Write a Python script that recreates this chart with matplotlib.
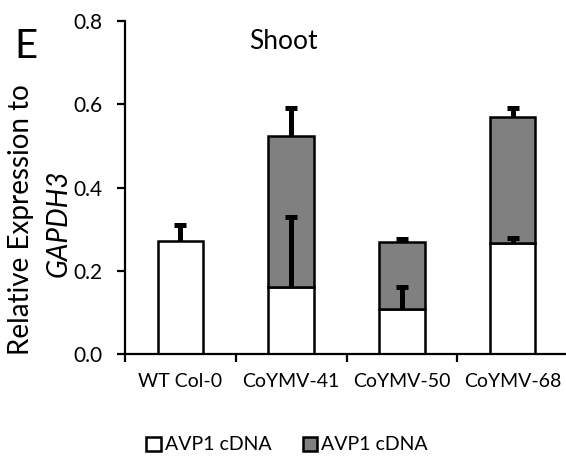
import numpy as np
import matplotlib
matplotlib.use('Agg')
import matplotlib.pyplot as plt
from matplotlib.patches import Patch

plt.rcParams['font.family'] = ['Lato', 'DejaVu Sans']

# relative expression (shoot), white = lower segment, gray = stacked segment total
lines = ['WT Col-0', 'CoYMV-41', 'CoYMV-50', 'CoYMV-68']
lower = [0.271, 0.162, 0.108, 0.266]
lower_err = [0.040, 0.168, 0.054, 0.012]
total = [None, 0.524, 0.268, 0.569]
total_err = [None, 0.067, 0.008, 0.021]
legend_labels = ['AVP1 cDNA', 'AVP1 cDNA']

gray = '#808080'

fig = plt.figure(figsize=(5.66, 4.59), dpi=100)
ax = fig.add_axes([125/566, 105/459, 443/566, 333/459])

x = np.arange(len(lines))
w = 0.41
ax.bar(x, lower, width=w, color='white', edgecolor='black', linewidth=1.8, zorder=2)
xs = [i for i in x if total[i] is not None]
upper = [total[i] - lower[i] for i in xs]
ax.bar(xs, upper, width=w, bottom=[lower[i] for i in xs], color=gray,
       edgecolor='black', linewidth=1.8, zorder=2)

def err_up(xpos, y, e, cap=0.055):
    # upward-only error bar with a flat cap
    xpos = np.asarray(xpos, dtype=float)
    y = np.asarray(y)
    e = np.asarray(e)
    ax.vlines(xpos, y, y + e, color='black', linewidth=3.6, zorder=3)
    ax.hlines(y + e, xpos - cap, xpos + cap, color='black', linewidth=3.6, zorder=3)

err_up(x, lower, lower_err)
err_up(xs, [total[i] for i in xs], [total_err[i] for i in xs])

ax.set_xlim(-0.5, len(lines) - 0.5)
ax.set_ylim(0, 0.8)
ax.set_yticks(np.arange(0, 0.81, 0.2))
ax.set_yticklabels(['%.1f' % v for v in np.arange(0, 0.81, 0.2)], fontsize=15)
ax.set_xticks(np.arange(-0.5, len(lines), 1.0))
ax.set_xticklabels([])
ax.set_xticks(x, minor=True)
ax.set_xticklabels(lines, minor=True, fontsize=14)
ax.tick_params(axis='x', which='minor', length=0, pad=14)
ax.tick_params(axis='both', which='major', direction='out', length=6, width=1.6)
ax.tick_params(axis='y', pad=10)
for s in ['top', 'right']:
    ax.spines[s].set_visible(False)
for s in ['left', 'bottom']:
    ax.spines[s].set_linewidth(1.6)

ax.text(0.93, 0.75, 'Shoot', ha='center', va='center', fontsize=19)

fig.text(21/566, 1 - 220/459, 'Relative Expression to', rotation=90,
         ha='center', va='center', fontsize=20)
fig.text(59/566, 1 - 223/459, 'GAPDH3', rotation=90, style='italic',
         ha='center', va='center', fontsize=20)
fig.text(26/566, 1 - 46/459, 'E', ha='center', va='center', fontsize=29)

handles = [Patch(facecolor='white', edgecolor='black', linewidth=1.8),
           Patch(facecolor=gray, edgecolor='black', linewidth=1.8)]
fig.legend(handles, legend_labels, loc='center', bbox_to_anchor=(287/566, 1 - 445/459),
           ncol=2, frameon=False, fontsize=14, handlelength=0.75, handleheight=0.75,
           handletextpad=0.2, columnspacing=1.6, borderpad=0)

fig.savefig('out.png', dpi=100)
